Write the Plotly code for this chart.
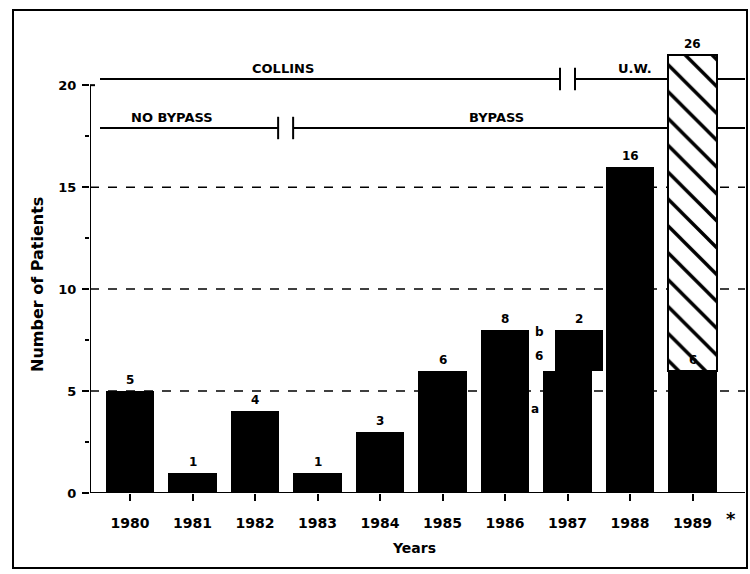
import plotly.graph_objects as go

# ---------------- data ----------------
years = ["1980", "1981", "1982", "1983", "1984", "1985", "1986", "1987", "1988", "1989"]
black_values = [5, 1, 4, 1, 3, 6, 8, 6, 16, 6]
black_labels = ["5", "1", "4", "1", "3", "6", "8", "", "16", "6"]
b1987_base = [6]
b1987_height = [2]
b1987_label = "2"
uw1989_base = [6]
uw1989_height = [15.5]          # drawn up to 21.5 (truncated bar)
uw1989_label = "26"
y_ticks = [0, 5, 10, 15, 20]
y_minor = [2.5, 7.5, 12.5, 17.5]
grid_values = [5, 10, 15]
collins_level = 20.3
bypass_level = 17.9

# ---------------- layout constants ----------------
W, H = 750, 574
ML, MR, MT, MB = 90, 5, 24, 81
XR = [-0.64, 9.84]
YR = [0, 23]
BW = 0.77
FONT = "DejaVu Sans"

x_idx = list(range(len(years)))
i87 = years.index("1987")
i89 = years.index("1989")

fig = go.Figure()
fig.add_trace(go.Bar(x=x_idx, y=black_values, width=BW,
                     marker=dict(color="black", line=dict(width=0)),
                     hoverinfo="skip", showlegend=False))
fig.add_trace(go.Bar(x=[i87], y=b1987_height, base=b1987_base, width=BW,
                     offset=-BW / 2 + 0.18,
                     marker=dict(color="black", line=dict(width=0)),
                     hoverinfo="skip", showlegend=False))
fig.add_trace(go.Bar(x=[i89], y=uw1989_height, base=uw1989_base, width=BW,
                     marker=dict(color="white",
                                 line=dict(color="black", width=2),
                                 pattern=dict(shape="\\", fgcolor="black", bgcolor="white",
                                              fgopacity=1, size=19, solidity=0.18)),
                     hoverinfo="skip", showlegend=False))

shapes = []
line_style = dict(color="black", width=2)
for g in grid_values:
    shapes.append(dict(type="line", xref="x", yref="y", x0=XR[0], x1=XR[1], y0=g, y1=g,
                       line=dict(color="black", width=1.5, dash="dash"), layer="below"))
shapes.append(dict(type="line", xref="x", yref="y", x0=-0.8, x1=XR[1], y0=0, y1=0,
                   line=line_style, layer="above"))
shapes.append(dict(type="line", xref="x", yref="y", x0=XR[0], x1=XR[0], y0=0, y1=20,
                   line=line_style, layer="above"))
shapes.append(dict(type="line", xref="x", yref="y", x0=XR[0] - 0.08, x1=XR[0] + 0.08, y0=20, y1=20,
                   line=line_style, layer="above"))

shapes.append(dict(type="line", xref="x", yref="y", x0=-0.48, x1=6.88, y0=collins_level, y1=collins_level,
                   line=line_style, layer="below"))
shapes.append(dict(type="line", xref="x", yref="y", x0=7.12, x1=XR[1], y0=collins_level, y1=collins_level,
                   line=line_style, layer="below"))
for bx in (6.88, 7.12):
    shapes.append(dict(type="line", xref="x", yref="y", x0=bx, x1=bx,
                       y0=collins_level - 0.55, y1=collins_level + 0.55, line=line_style, layer="below"))
shapes.append(dict(type="line", xref="x", yref="y", x0=-0.48, x1=2.37, y0=bypass_level, y1=bypass_level,
                   line=line_style, layer="below"))
shapes.append(dict(type="line", xref="x", yref="y", x0=2.61, x1=XR[1], y0=bypass_level, y1=bypass_level,
                   line=line_style, layer="below"))
for bx in (2.37, 2.61):
    shapes.append(dict(type="line", xref="x", yref="y", x0=bx, x1=bx,
                       y0=bypass_level - 0.55, y1=bypass_level + 0.55, line=line_style, layer="below"))

pw, ph = W - ML - MR, H - MT - MB
def px(xp): return (xp - ML) / pw
def py(yp): return (H - MB - yp) / ph
shapes.append(dict(type="rect", xref="paper", yref="paper", x0=px(13), x1=px(747), y0=py(568), y1=py(10),
                   line=dict(color="black", width=2), fillcolor="rgba(0,0,0,0)", layer="above"))

ann = []
bold = dict(family=FONT, size=12, color="black", weight="bold")
for i, (v, lab) in enumerate(zip(black_values, black_labels)):
    if lab:
        ann.append(dict(x=i, y=v, text=lab, showarrow=False, yanchor="bottom", yshift=2, font=bold))
ann.append(dict(x=i87 + 0.18, y=b1987_base[0] + b1987_height[0], text=b1987_label, showarrow=False,
                yanchor="bottom", yshift=2, font=bold))
ann.append(dict(x=i87 - 0.45, y=6.7, text="6", showarrow=False, font=bold))
ann.append(dict(x=i87 - 0.45, y=7.9, text="b", showarrow=False, font=bold))
ann.append(dict(x=i87 - 0.52, y=4.1, text="a", showarrow=False, font=bold))
ann.append(dict(x=i89, y=uw1989_base[0] + uw1989_height[0], text=uw1989_label, showarrow=False,
                yanchor="bottom", yshift=2, font=bold))
grp = dict(family=FONT, size=13, color="black", weight="bold")
ann.append(dict(x=2.44, y=collins_level, text="COLLINS", showarrow=False, yanchor="bottom", yshift=1, font=grp))
ann.append(dict(x=8.08, y=collins_level, text="U.W.", showarrow=False, yanchor="bottom", yshift=1, font=grp))
ann.append(dict(x=0.67, y=bypass_level, text="NO BYPASS", showarrow=False, yanchor="bottom", yshift=1, font=grp))
ann.append(dict(x=5.87, y=bypass_level, text="BYPASS", showarrow=False, yanchor="bottom", yshift=1, font=grp))
ann.append(dict(xref="paper", yref="paper", x=px(731), y=py(518), text="*", showarrow=False,
                xanchor="center", yanchor="middle",
                font=dict(family=FONT, size=18, color="black", weight="bold")))
ann.append(dict(xref="paper", yref="paper", x=px(38), y=py(285), text="Number of Patients",
                textangle=-90, showarrow=False, xanchor="center", yanchor="middle",
                font=dict(family=FONT, size=16, color="black", weight="bold")))
ann.append(dict(xref="paper", yref="paper", x=px(414), y=py(548), text="Years", showarrow=False,
                xanchor="center", yanchor="middle",
                font=dict(family=FONT, size=14, color="black", weight="bold")))

fig.update_layout(
    width=W, height=H, autosize=False,
    margin=dict(l=ML, r=MR, t=MT, b=MB),
    paper_bgcolor="white", plot_bgcolor="white",
    barmode="overlay", bargap=0,
    shapes=shapes, annotations=ann,
    font=dict(family=FONT, color="black"),
    xaxis=dict(range=XR, tickmode="array", tickvals=x_idx, ticktext=years,
               showgrid=False, zeroline=False, showline=False,
               ticks="outside", ticklen=7, tickwidth=2, tickcolor="black",
               ticklabelstandoff=10,
               tickfont=dict(family=FONT, size=14, color="black", weight="bold")),
    yaxis=dict(range=YR, tickmode="array", tickvals=y_ticks,
               showgrid=False, zeroline=False, showline=False,
               ticks="outside", ticklen=7, tickwidth=2, tickcolor="black",
               ticklabelstandoff=3,
               minor=dict(tickvals=y_minor, ticks="outside", ticklen=4,
                          tickwidth=2, tickcolor="black"),
               tickfont=dict(family=FONT, size=13, color="black", weight="bold")),
)

fig.write_html("out.html", config={"displayModeBar": False},
               post_script="document.body.style.margin='0';document.body.style.overflow='hidden';")
